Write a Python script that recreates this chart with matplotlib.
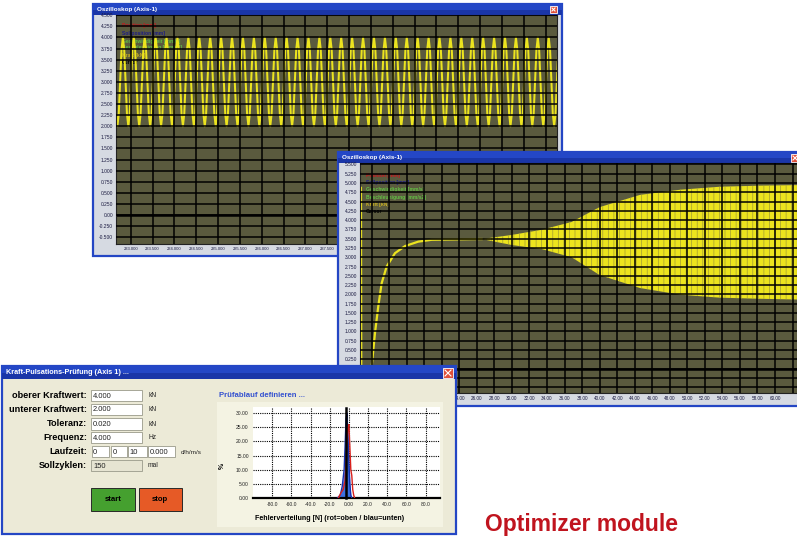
import numpy as np
import matplotlib
matplotlib.use("Agg")
import matplotlib.pyplot as plt
from matplotlib.patches import Rectangle

W, H = 797, 536

# window 1 - steady pulsation 2..4 kN at 4 Hz
cycle1 = [4.0, 3.72, 3.0, 2.28, 2.0, 2.28, 3.0, 3.72]   # one period
freq_hz = 4.0
t1_start = 232.57
n_cycles1 = 42

# window 2 - ramp up, then growing pulsation
t2 = [12.79, 12.83, 13.85, 14.01, 14.39, 14.76, 15.15, 15.72, 16.67, 17.81, 19.32, 20.85, 26.17, 26.55]
v2 = [4.87, -0.9, -0.9, 0.05, 0.96, 1.67, 2.30, 2.75, 3.11, 3.30, 3.42, 3.47, 3.49, 3.49]
env_t = [26.55, 29.97, 33.4, 36.8, 40.0, 44.6, 49.2, 53.7, 58.3, 64.6]
env_up = [3.49, 3.60, 3.74, 3.95, 4.35, 4.68, 4.82, 4.90, 4.93, 4.95]
env_low = [3.49, 3.33, 3.22, 3.00, 2.52, 2.17, 1.99, 1.91, 1.88, 1.85]

legend_names = ["Position [mm]", "Sollposition [mm]", "Geschwindigkeit [mm/s]",
                "Beschleunigung [mm/s2]", "Kraft [kN]", "Cursor"]
legend_colors = ["#C8141C", "#1C1C86", "#62C044", "#62C044", "#C9B020", "black"]

# dialog
field_labels = ["oberer Kraftwert:", "unterer Kraftwert:", "Toleranz:", "Frequenz:", "Laufzeit:", "Sollzyklen:"]
field_values = ["4.000", "2.000", "0.020", "4.000", None, "150"]
field_units = ["kN", "kN", "kN", "Hz", "d/h/m/s", "mal"]
laufzeit = ["0", "0", "10", "0.000"]

# error distribution
blue_x = [-12, -9, -7, -5, -4, -3, -2, -1, 0, 1, 2, 3]
blue_y = [0, 1, 4, 10, 18, 28, 30, 22, 12, 5, 1, 0]
red_x = [-11, -8, -6, -4, -3, -2, -1, 0, 1, 2, 3, 4, 5, 6]
red_y = [0, 2, 3, 6, 12, 20, 25, 26, 18, 10, 8, 3, 1, 0]
cursor_x = [-3, -3]
cursor_y = [0, 32]

NARROW = ["Liberation Sans Narrow", "Liberation Sans", "DejaVu Sans"]
SANS = ["Liberation Sans", "DejaVu Sans"]
OLIVE = "#5A5A3E"
YEL = "#ECE41E"
plt.rcParams["hatch.linewidth"] = 0.5

fig = plt.figure(figsize=(W / 100, H / 100), dpi=100)
fig.patch.set_facecolor("white")


def rect_of(x0, y0, x1, y1):
    return [x0 / W, 1 - y1 / H, (x1 - x0) / W, (y1 - y0) / H]


def bg_axes(x0, y0, x1, y1):
    ax = fig.add_axes(rect_of(x0, y0, x1, y1))
    ax.set_xlim(x0, x1)
    ax.set_ylim(y1, y0)
    ax.axis("off")
    return ax


def window(x0, y0, x1, y1, title, body, bar_h, title_fs):
    ax = bg_axes(x0, y0, x1, y1)
    ax.add_patch(Rectangle((x0, y0), x1 - x0, y1 - y0, fc=body, ec="#2446C4", lw=1.6, clip_on=False))
    ax.add_patch(Rectangle((x0, y0), x1 - x0, bar_h, fc="#2447C6", ec="none"))
    ax.add_patch(Rectangle((x0, y0 + bar_h * 0.55), x1 - x0, bar_h * 0.45, fc="#1A36A8", ec="none"))
    ax.text(x0 + 4, y0 + bar_h / 2 + 0.5, title, color="white", fontsize=title_fs,
            weight="bold", va="center", family=SANS)
    return ax


def close_btn(ax, x, y, s):
    ax.add_patch(Rectangle((x, y), s, s, fc="#E0503A", ec="white", lw=0.6))
    ax.plot([x + 2, x + s - 2], [y + 2, y + s - 2], color="white", lw=0.8)
    ax.plot([x + 2, x + s - 2], [y + s - 2, y + 2], color="white", lw=0.8)


def scope(ax, xlim, ylim, xt, yt, xlabels, xfs):
    ax.set_facecolor(OLIVE)
    ax.set_xlim(*xlim)
    ax.set_ylim(*ylim)
    ax.set_xticks(xt)
    ax.set_yticks(yt)
    ax.set_xticklabels(xlabels, fontsize=xfs, color="#1a1a40", family=SANS)
    ax.set_yticklabels(["0.00" if abs(v) < 1e-9 else "%.3f" % v for v in yt],
                       fontsize=3.5, color="#1a1a40", family=SANS)
    ax.tick_params(length=0, pad=2)
    ax.grid(True, color="black", lw=1.1)
    ax.set_axisbelow(False)
    for s in ax.spines.values():
        s.set_color("#222222")
        s.set_linewidth(0.8)


def legend(ax, bg, x, ys):
    for name, col, y in zip(legend_names, legend_colors, ys):
        ax.text(x, y, name, transform=bg.transData, color=col, fontsize=3.6,
                weight="bold", va="center", family=SANS, zorder=1)


# ---- window 1
bg1 = window(93, 4, 562, 256, "Oszilloskop (Axis-1)", "#D6DAE2", 11, 4.5)
close_btn(bg1, 550, 6, 7)
ax1 = fig.add_axes(rect_of(116, 15, 557, 244))
xt1 = np.arange(233.0, 242.6, 0.5)
scope(ax1, (232.663, 242.76), (-0.653, 4.505), xt1, np.arange(-0.5, 4.51, 0.25),
      ["%.3f" % v if v < 237.6 else "" for v in xt1], 3.0)
t1 = t1_start + np.arange(len(cycle1) * n_cycles1 + 1) / (freq_hz * len(cycle1))
v1 = np.tile(cycle1, n_cycles1 + 1)[:len(t1)]
ax1.plot(t1, v1, color=YEL, lw=1.45, zorder=2)
ax1.axhline(0, color="black", lw=1.8)
legend(ax1, bg1, 122, [25, 33, 41, 48, 55, 62])

# ---- window 2
bg2 = window(338, 152, 815, 406, "Oszilloskop (Axis-1)", "#D6DAE2", 11, 4.5)
close_btn(bg2, 791, 154, 8)
ax2 = fig.add_axes(rect_of(360, 163, 815, 393))
xt2 = np.arange(14, 64.1, 2)
scope(ax2, (12.68, 64.56), (-0.66, 5.54), xt2, np.arange(-0.5, 5.51, 0.25),
      ["%.2f" % v if 23 < v < 61 else "" for v in xt2], 3.3)
ax2.plot(t2, v2, color=YEL, lw=1.6, zorder=2)
ax2.fill_between(env_t, env_low, env_up, facecolor=YEL, edgecolor="#A29C34",
                 hatch="|||", lw=0, zorder=2)
ax2.axhline(0, color="black", lw=1.8)
legend(ax2, bg2, 366, [175, 182.7, 190, 197.3, 204.3, 211.7])

# ---- window 3 (dialog)
bg3 = window(2, 366, 456, 534, "Kraft-Pulsations-Prüfung (Axis 1) ...", "#ECEAD7", 13, 5.2)
close_btn(bg3, 443, 368, 10)

row_y = [395.7, 409.3, 424.0, 437.7, 451.7, 465.8]
for lab, val, unit, y in zip(field_labels, field_values, field_units, row_y):
    bg3.text(87, y, lab, ha="right", va="center", fontsize=6.6, weight="bold", family=NARROW)
    if val is not None:
        fc = "white" if unit != "mal" else "#E6E4D2"
        bg3.add_patch(Rectangle((91, y - 5.6), 51, 11.2, fc=fc, ec="#9A9A8A", lw=0.6))
        bg3.text(93, y + 0.3, val, va="center", fontsize=5.4, family=SANS, color="#222222")
        bg3.text(148, y, unit, va="center", fontsize=4.8, family=SANS, color="#222222")
    else:
        xs = [(91.5, 109.3), (111, 126.7), (128.3, 146.7), (148.3, 175)]
        for (a, b), txt in zip(xs, laufzeit):
            bg3.add_patch(Rectangle((a, y - 5.6), b - a, 11.2, fc="white", ec="#9A9A8A", lw=0.6))
            bg3.text(a + 1.5, y + 0.3, txt, va="center", fontsize=5.4, family=SANS, color="#222222")
        bg3.text(181, y + 0.5, unit, va="center", fontsize=4.6, family=SANS, color="#222222")

for (a, b), col, txt in zip([(91, 135), (138.5, 182)], ["#45A02F", "#E65A26"], ["start", "stop"]):
    bg3.add_patch(Rectangle((a + 1.2, 489), b - a, 23, fc="#555548", ec="none"))
    bg3.add_patch(Rectangle((a, 487.7), b - a, 23, fc=col, ec="#2A2A2A", lw=0.7))
    bg3.text((a + b) / 2, 499.5, txt, ha="center", va="center", fontsize=5.6,
             weight="bold", family=SANS)

bg3.add_patch(Rectangle((217, 402), 226, 125, fc="#F4F3E3", ec="none"))
bg3.text(219, 395.5, "Prüfablauf definieren ...", color="#3552D0", fontsize=5.6,
         weight="bold", va="center", family=SANS)
bg3.text(222, 466, "%", rotation=90, fontsize=5, weight="bold", ha="center", va="center", family=SANS)
bg3.text(330, 518, "Fehlerverteilung [N] (rot=oben / blau=unten)", ha="center", va="center",
         fontsize=5.1, weight="bold", family=SANS)

ax3 = fig.add_axes(rect_of(253, 407, 440, 498))
ax3.set_facecolor("white")
ax3.set_xlim(-100, 95)
ax3.set_ylim(0, 32.2)
xt3 = np.arange(-80, 81, 20)
yt3 = np.arange(0, 31, 5)
ax3.set_xticks(xt3)
ax3.set_yticks(yt3)
ax3.set_xticklabels(["0.00" if v == 0 else "%.1f" % v for v in xt3], fontsize=3.6, family=SANS, color="#222222")
ax3.set_yticklabels(["%.2f" % v for v in yt3], fontsize=3.6, family=SANS, color="#222222")
ax3.tick_params(length=0, pad=3)
ax3.grid(True, color="black", lw=0.8, ls=(0, (1, 1)))
for k in ["top", "right", "left"]:
    ax3.spines[k].set_visible(False)
ax3.spines["bottom"].set_linewidth(1.6)
ax3.fill_between(blue_x, blue_y, color="#3C70E0", lw=0, zorder=2)
ax3.plot(blue_x, blue_y, color="#1530B0", lw=1.0, zorder=3)
ax3.plot(red_x, red_y, color="#D8201C", lw=1.0, zorder=3)
ax3.plot(cursor_x, cursor_y, color="black", lw=1.8, zorder=4, clip_on=False)

fig.text(485 / W, 1 - 531 / H, "Optimizer module", color="#C0141E", fontsize=16.5,
         weight="bold", family=NARROW, va="baseline")

fig.savefig("out.png", dpi=100)
